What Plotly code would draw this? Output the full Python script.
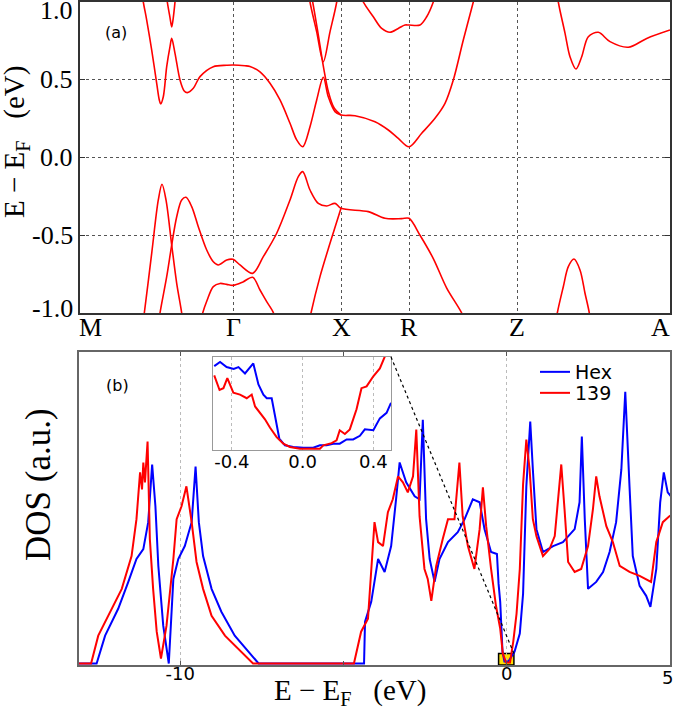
import plotly.graph_objects as go

# ---------------- data ----------------
# high-symmetry points along the k-path (path coordinate)
HS_LABELS = ["M", "Γ", "X", "R", "Z", "A"]
HS_K = [0.0, 1.53, 2.61, 3.29, 4.37, 5.90]

# energy ticks of band panel
E_TICKS = [-1.0, -0.5, 0.0, 0.5, 1.0]
E_TICKTEXT = ["-1.0", "-0.5", "0.0", "0.5", "1.0"]

# bands (k, E in eV)
C1_K = [0.61, 0.633, 0.667, 0.717, 0.767, 0.793, 0.807, 0.833, 0.867, 0.90,
        0.917, 0.95, 1.00, 1.04, 1.073, 1.133, 1.20, 1.333, 1.467, 1.53,
        1.65, 1.70, 1.80, 1.90, 2.00, 2.10, 2.167, 2.227, 2.30, 2.367,
        2.433, 2.483, 2.55, 2.61, 2.75, 2.95, 3.083, 3.183, 3.29, 3.417,
        3.55, 3.65, 3.733, 3.833, 3.933, 3.97]
C1_E = [1.1, 1.0, 0.884, 0.691, 0.477, 0.37, 0.345, 0.391, 0.584, 0.713,
        0.766, 0.67, 0.498, 0.43, 0.417, 0.445, 0.52, 0.584, 0.593, 0.595,
        0.59, 0.585, 0.55, 0.477, 0.37, 0.22, 0.113, 0.069, 0.198, 0.37,
        0.516, 0.39, 0.295, 0.273, 0.269, 0.23, 0.177, 0.123, 0.069, 0.156,
        0.252, 0.348, 0.498, 0.756, 1.0, 1.1]
C2_K = [2.28, 2.30, 2.367, 2.433, 2.50, 2.567, 2.585]
C2_E = [1.1, 1.0, 0.808, 0.616, 0.808, 1.0, 1.1]
C3_K = [2.311, 2.327, 2.38, 2.438, 2.485, 2.54, 2.61]
C3_E = [1.05, 1.0, 0.80, 0.57, 0.42, 0.32, 0.273]
C4_K = [2.80, 2.833, 2.933, 3.017, 3.10, 3.183, 3.25, 3.29, 3.40, 3.467, 3.533, 3.56]
C4_E = [1.06, 1.0, 0.905, 0.83, 0.805, 0.83, 0.852, 0.852, 0.852, 0.905, 1.0, 1.06]
C5_K = [4.75, 4.783, 4.85, 4.90, 4.96, 5.017, 5.083, 5.183, 5.30, 5.483, 5.667, 5.90]
C5_E = [1.15, 1.0, 0.80, 0.648, 0.569, 0.648, 0.777, 0.805, 0.745, 0.709, 0.766, 0.82]
C6_K = [0.855, 0.873, 0.90, 0.917, 0.933, 0.95, 0.965]
C6_E = [1.1, 1.0, 0.9, 0.84, 0.9, 1.0, 1.1]

V1_K = [0.62, 0.643, 0.717, 0.783, 0.82, 0.86, 0.917, 0.967, 1.017, 1.035]
V1_E = [-1.1, -1.0, -0.616, -0.273, -0.172, -0.273, -0.563, -0.809, -1.0, -1.1]
V2_K = [0.78, 0.80, 0.867, 0.917, 0.967, 1.017, 1.06, 1.117, 1.183, 1.267,
        1.333, 1.383, 1.467, 1.53, 1.60, 1.727, 1.833, 1.967, 2.10, 2.183,
        2.227, 2.30, 2.383, 2.467, 2.55, 2.61, 2.883, 3.05, 3.217, 3.29,
        3.40, 3.533, 3.667, 3.817, 3.88]
V2_E = [-1.1, -1.0, -0.766, -0.563, -0.381, -0.273, -0.256, -0.316, -0.445, -0.595,
        -0.67, -0.691, -0.659, -0.655, -0.691, -0.745, -0.638, -0.487, -0.273, -0.123,
        -0.091, -0.209, -0.295, -0.312, -0.295, -0.327, -0.348, -0.391, -0.393, -0.391,
        -0.50, -0.65, -0.84, -1.0, -1.1]
V3_K = [1.19, 1.227, 1.27, 1.333, 1.40, 1.467, 1.53, 1.63, 1.727, 1.80, 1.867, 1.935, 1.96]
V3_E = [-1.1, -1.0, -0.92, -0.83, -0.81, -0.816, -0.822, -0.80, -0.77, -0.852, -0.927, -1.0, -1.1]
V4_K = [2.28, 2.31, 2.40, 2.50, 2.61]
V4_E = [-1.1, -1.0, -0.766, -0.552, -0.327]
V5_K = [4.75, 4.773, 4.833, 4.883, 4.94, 5.00, 5.05, 5.093, 5.11]
V5_E = [-1.1, -1.0, -0.831, -0.702, -0.653, -0.723, -0.873, -1.0, -1.1]

# density of states (arbitrary units)
HEX_E = [-13.1, -12.56, -12.30, -11.90, -11.59, -11.34, -11.13, -10.98, -10.86, -10.76,
         -10.67, -10.52, -10.35, -10.21, -10.06, -9.86, -9.65, -9.53, -9.43, -9.30,
         -9.04, -8.74, -8.33, -7.92, -7.67, -7.60, -4.37, -4.34, -4.15, -3.94,
         -3.74, -3.54, -3.39, -3.28, -3.08, -2.82, -2.67, -2.57, -2.47, -2.36,
         -2.21, -2.06, -1.80, -1.50, -1.29, -1.04, -0.83, -0.68, -0.48, -0.30,
         -0.25, -0.20, -0.13, -0.07, 0.05, 0.24, 0.40, 0.50, 0.60, 0.72,
         0.80, 0.91, 1.11, 1.42, 1.72, 2.08, 2.23, 2.30, 2.39, 2.49,
         2.74, 2.95, 3.15, 3.35, 3.51, 3.63, 3.76, 3.86, 4.07, 4.27,
         4.40, 4.58, 4.70, 4.81, 4.93, 5.1]
HEX_DOS = [0, 0, 28, 55, 82, 105, 115, 142, 200, 158,
           98, 38, 0, 85, 105, 118, 142, 198, 142, 108,
           75, 52, 28, 12, 2, 0, 0, 42, 62, 105,
           92, 118, 165, 202, 182, 168, 165, 245, 145, 105,
           82, 105, 122, 132, 145, 165, 162, 135, 112, 110,
           80, 62, 12, 2, 2, 12, 30, 70, 178, 243,
           195, 135, 112, 118, 122, 135, 162, 228, 145, 75,
           82, 92, 112, 142, 195, 273, 178, 108, 78, 68,
           57, 95, 162, 192, 172, 165]
RED_E = [-13.1, -12.73, -12.51, -12.10, -11.79, -11.49, -11.34, -11.23, -11.17, -11.13,
         -11.08, -11.0, -10.93, -10.83, -10.72, -10.59, -10.42, -10.21, -10.11, -9.96,
         -9.81, -9.65, -9.50, -9.30, -9.04, -8.63, -8.23, -7.82, -7.77, -4.68,
         -4.46, -4.25, -4.05, -3.94, -3.79, -3.64, -3.49, -3.33, -3.18, -3.03,
         -2.87, -2.77, -2.67, -2.52, -2.42, -2.31, -2.16, -1.96, -1.80, -1.60,
         -1.45, -1.35, -1.19, -0.99, -0.83, -0.73, -0.63, -0.48, -0.33, -0.20,
         -0.12, -0.02, 0.10, 0.20, 0.30, 0.40, 0.50, 0.60, 0.70, 0.80,
         0.91, 1.11, 1.31, 1.47, 1.57, 1.67, 1.77, 1.88, 2.08, 2.28,
         2.49, 2.64, 2.74, 2.84, 3.05, 3.25, 3.46, 3.76, 4.07, 4.42,
         4.58, 4.78, 4.98, 5.1]
RED_DOS = [0, 0, 28, 55, 75, 108, 145, 192, 175, 202,
           182, 223, 125, 75, 32, 5, 38, 105, 145, 158,
           178, 142, 102, 75, 48, 28, 15, 2, 0, 0,
           32, 45, 142, 122, 118, 152, 165, 188, 182, 172,
           188, 235, 148, 95, 85, 63, 98, 125, 145, 145,
           202, 148, 118, 95, 135, 177, 138, 95, 58, 35,
           10, 1, 1, 22, 50, 95, 180, 225, 195, 145,
           128, 108, 115, 128, 162, 200, 155, 102, 92, 95,
           118, 155, 188, 168, 138, 122, 98, 92, 88, 82,
           122, 142, 148, 150]

# inset (zoom around E_F), arbitrary units
INS_HEX_E = [-0.50, -0.467, -0.43, -0.39, -0.363, -0.326, -0.279, -0.25, -0.222, -0.203,
             -0.175, -0.156, -0.132, -0.10, -0.053, 0.004, 0.06, 0.098, 0.136, 0.173,
             0.21, 0.249, 0.286, 0.324, 0.352, 0.40, 0.437, 0.475, 0.50]
INS_HEX_DOS = [90, 94.6, 89, 87, 89, 82, 93, 70, 59, 55,
               55, 36, 11, 3.6, 1.8, 1, 1, 3.6, 3.6, 5.4,
               5.4, 10, 10, 14, 21, 20, 33, 39, 50]
INS_RED_E = [-0.50, -0.47, -0.448, -0.426, -0.392, -0.354, -0.316, -0.288, -0.269, -0.241,
             -0.213, -0.185, -0.147, -0.109, -0.072, -0.015, 0.041, 0.098, 0.117, 0.164,
             0.192, 0.21, 0.239, 0.267, 0.305, 0.333, 0.362, 0.40, 0.437, 0.461, 0.49]
INS_RED_DOS = [80, 64, 66, 77, 61, 59, 55, 59, 46, 39,
               32, 23, 12.5, 5.4, 1.8, 0, 0, 0, 3.6, 6,
               9, 20, 16, 21, 43, 66, 68, 79, 87.5, 100, 112]

INS_TICKS = [-0.4, 0.0, 0.4]
INS_TICKTEXT = ["-0.4", "0.0", "0.4"]
DOS_TICKS = [-10, 0, 5]
DOS_TICKTEXT = ["-10", "0", "5"]
BOX_E = [-0.25, 0.22]   # marked window on main DOS
BOX_DOS = [-1.5, 10]

# ---------------- style / layout ----------------
W, H = 675, 707
RED = "#ff0000"
BLUE = "#0000ff"
SERIF = "Liberation Serif"
SANS = "DejaVu Sans"

def fx(p):
    return p / W

def fy(p):
    return 1 - p / H

DOM_X1 = [fx(80), fx(670)]
DOM_Y1 = [fy(313), fy(2)]
DOM_X2 = [fx(79), fx(670)]
DOM_Y2 = [fy(665), fy(352)]
DOM_X3 = [fx(213), fx(391)]
DOM_Y3 = [fy(450), fy(357)]
X2_RANGE = [-13.1, 5.0]
Y2_RANGE = [-1.5, 313]
X3_RANGE = [-0.507, 0.5]
Y3_RANGE = [-1.5, 100]

fig = go.Figure()

bands = [(C1_K, C1_E), (C2_K, C2_E), (C3_K, C3_E), (C4_K, C4_E), (C5_K, C5_E),
         (C6_K, C6_E), (V1_K, V1_E), (V2_K, V2_E), (V3_K, V3_E), (V4_K, V4_E),
         (V5_K, V5_E)]
for k, e in bands:
    fig.add_trace(go.Scatter(x=k, y=e, mode="lines", xaxis="x", yaxis="y",
                             line=dict(color=RED, width=1.6, shape="spline", smoothing=0.9),
                             showlegend=False, hoverinfo="skip"))

fig.add_trace(go.Scatter(x=HEX_E, y=HEX_DOS, mode="lines", name="Hex", legend="legend",
                         xaxis="x2", yaxis="y2", line=dict(color=BLUE, width=2)))
fig.add_trace(go.Scatter(x=RED_E, y=RED_DOS, mode="lines", name="139", legend="legend2",
                         xaxis="x2", yaxis="y2", line=dict(color=RED, width=2)))
fig.add_trace(go.Scatter(x=INS_HEX_E, y=INS_HEX_DOS, mode="lines", showlegend=False,
                         xaxis="x3", yaxis="y3", line=dict(color=BLUE, width=2)))
fig.add_trace(go.Scatter(x=INS_RED_E, y=INS_RED_DOS, mode="lines", showlegend=False,
                         xaxis="x3", yaxis="y3", line=dict(color=RED, width=2)))

frame = dict(showline=True, mirror=True, zeroline=False)
legend_style = dict(xanchor="left", yanchor="top", bgcolor="rgba(0,0,0,0)", borderwidth=0,
                    font=dict(family=SANS, size=19, color="black"), itemwidth=30)

fig.update_layout(
    width=W, height=H, autosize=False,
    margin=dict(l=0, r=0, t=0, b=0),
    paper_bgcolor="white", plot_bgcolor="white",
    xaxis=dict(domain=DOM_X1, range=[HS_K[0], HS_K[-1]], anchor="y",
               tickvals=HS_K, showticklabels=False, ticks="",
               showgrid=True, gridcolor="#555", griddash="dot", gridwidth=1,
               linecolor="#333", linewidth=1.5, **frame),
    yaxis=dict(domain=DOM_Y1, range=[-1, 1], anchor="x",
               tickvals=E_TICKS, showticklabels=False,
               ticks="inside", ticklen=5, tickcolor="#333",
               showgrid=True, gridcolor="#555", griddash="dot", gridwidth=1,
               linecolor="#333", linewidth=1.5, showline=True, mirror="ticks",
               zeroline=False),
    xaxis2=dict(domain=DOM_X2, range=X2_RANGE, anchor="y2",
                tickvals=DOS_TICKS, ticktext=DOS_TICKTEXT[:-1] + [""],
                tickfont=dict(family=SANS, size=18, color="black"),
                ticklabelstandoff=-8,
                ticks="inside", ticklen=4, tickcolor="#555",
                minor=dict(tickvals=[-5], ticks="inside", ticklen=4, tickcolor="#555",
                           showgrid=False),
                showgrid=True, gridcolor="#bbb", griddash="dot", gridwidth=1,
                linecolor="#666", linewidth=1.5, showline=True, mirror="ticks",
                zeroline=False),
    yaxis2=dict(domain=DOM_Y2, range=Y2_RANGE, anchor="x2",
                showticklabels=False, ticks="", showgrid=False,
                linecolor="#666", linewidth=1.5, **frame),
    xaxis3=dict(domain=DOM_X3, range=X3_RANGE, anchor="y3",
                tickvals=INS_TICKS, ticktext=INS_TICKTEXT,
                tickfont=dict(family=SANS, size=18, color="black"),
                ticklabelstandoff=-5,
                ticks="", showgrid=True, gridcolor="#bbb", griddash="dot", gridwidth=1,
                linecolor="#999", linewidth=1.2, **frame),
    yaxis3=dict(domain=DOM_Y3, range=Y3_RANGE, anchor="x3",
                showticklabels=False, ticks="", showgrid=False,
                linecolor="#999", linewidth=1.2, **frame),
    legend=dict(x=fx(535), y=fy(353), **legend_style),
    legend2=dict(x=fx(535), y=fy(374), **legend_style),
)

annotations = []
# band-panel energy tick labels
YSHIFTS = [5, 0, 0, 0, -9]
for v, t, s in zip(E_TICKS, E_TICKTEXT, YSHIFTS):
    annotations.append(dict(x=fx(75), xref="paper", y=v, yref="y", text=t,
                            showarrow=False, xanchor="right", yanchor="middle", yshift=s,
                            font=dict(family=SERIF, size=26, color="black")))
# k-path labels
for i, (kv, lab) in enumerate(zip(HS_K, HS_LABELS)):
    xa, xs = "center", 0
    if i == 0:
        xa, xs = "left", -3
    elif i == len(HS_K) - 1:
        xa, xs = "right", 2
    annotations.append(dict(x=kv, xref="x", y=fy(327), yref="paper", text=lab,
                            showarrow=False, xanchor=xa, xshift=xs, yanchor="middle",
                            font=dict(family=SERIF, size=26, color="black")))
# last DOS tick label sits at the right figure edge
annotations.append(dict(x=1.0, xref="paper", y=fy(677), yref="paper", text=DOS_TICKTEXT[-1],
                        showarrow=False, xanchor="right", yanchor="middle",
                        font=dict(family=SANS, size=18, color="black")))
NB = "\u00a0"
EF_LABEL = "E" + NB + "−" + NB + "E<sub>F</sub>" + NB * 3 + "(eV)"
annotations.append(dict(x=fx(16), y=fy(142), xref="paper", yref="paper", text=EF_LABEL,
                        textangle=-90, showarrow=False, xanchor="center", yanchor="middle",
                        font=dict(family=SERIF, size=29, color="black")))
annotations.append(dict(x=fx(350), y=fy(692), xref="paper", yref="paper", text=EF_LABEL,
                        showarrow=False, xanchor="center", yanchor="middle",
                        font=dict(family=SERIF, size=29, color="black")))
annotations.append(dict(x=fx(38), y=fy(485), xref="paper", yref="paper", text="DOS" + NB + "(a.u.)",
                        textangle=-90, showarrow=False, xanchor="center", yanchor="middle",
                        font=dict(family=SERIF, size=35, color="black")))
annotations.append(dict(x=fx(116), y=fy(32), xref="paper", yref="paper", text="(a)",
                        showarrow=False, xanchor="center", yanchor="middle",
                        font=dict(family=SANS, size=16, color="black")))
annotations.append(dict(x=fx(117), y=fy(385), xref="paper", yref="paper", text="(b)",
                        showarrow=False, xanchor="center", yanchor="middle",
                        font=dict(family=SANS, size=16, color="black")))
fig.update_layout(annotations=annotations)

# marked window and connector to inset
fig.add_shape(type="rect", xref="x2", yref="y2", x0=BOX_E[0], x1=BOX_E[1],
              y0=BOX_DOS[0], y1=BOX_DOS[1], fillcolor="#ffe000",
              line=dict(color="black", width=1.5), layer="below")
bx = DOM_X2[0] + (BOX_E[1] - X2_RANGE[0]) / (X2_RANGE[1] - X2_RANGE[0]) * (DOM_X2[1] - DOM_X2[0])
by = DOM_Y2[0] + (BOX_DOS[1] - Y2_RANGE[0]) / (Y2_RANGE[1] - Y2_RANGE[0]) * (DOM_Y2[1] - DOM_Y2[0])
fig.add_shape(type="line", xref="paper", yref="paper", x0=DOM_X3[1], y0=DOM_Y3[1],
              x1=bx, y1=by, line=dict(color="black", width=1.2, dash="dot"))

fig.write_html("out.html", config={"displayModeBar": False},
               post_script="document.body.style.margin='0';document.body.style.overflow='hidden';")
